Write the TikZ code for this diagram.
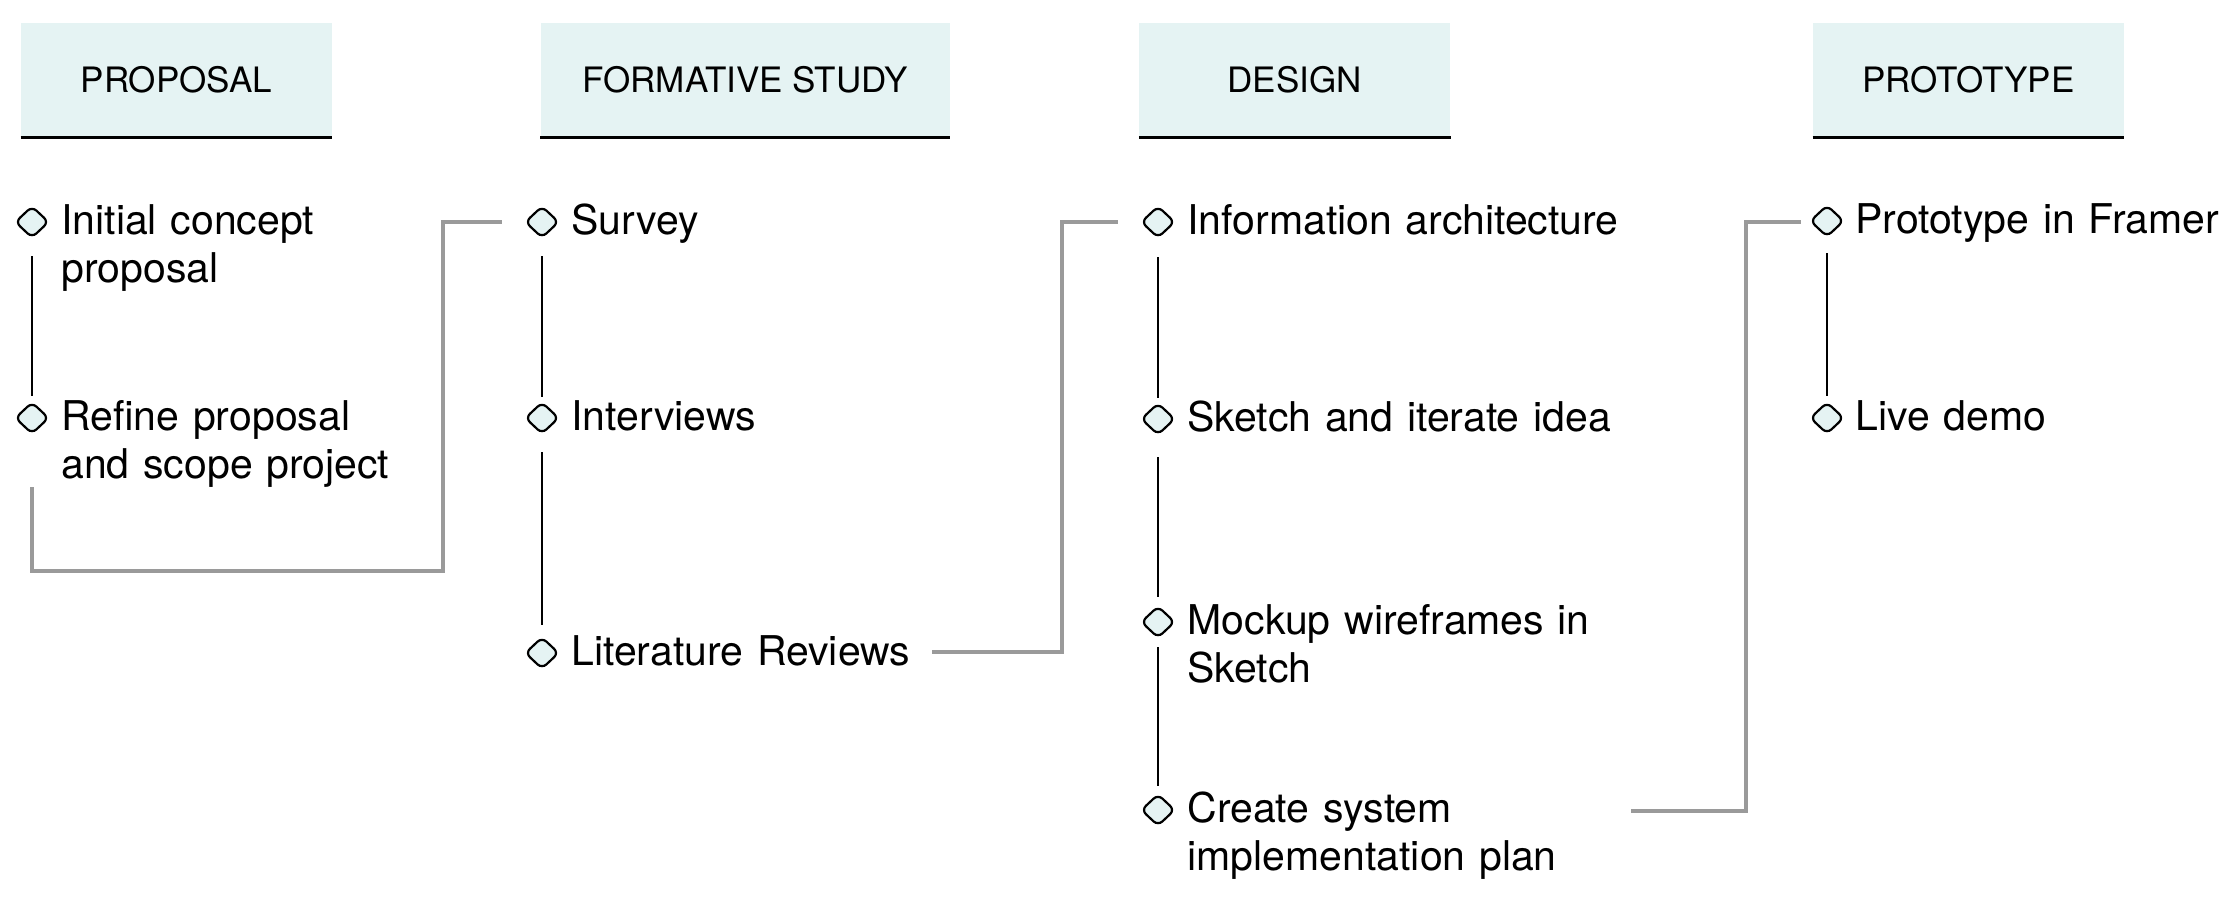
\documentclass[tikz,border=0pt]{standalone}
\usepackage{fontspec}
\setmainfont{TeX Gyre Heros}
\usetikzlibrary{shapes.geometric}
\usetikzlibrary{positioning}

\definecolor{paleteal}{HTML}{E5F3F3}
\definecolor{linkgray}{HTML}{9A9A9A}

\tikzset{
  phase/.style={fill=paleteal, minimum width=155.5pt, minimum height=57pt, inner sep=0pt, font=\fontsize{17.5}{21}\selectfont},
  wide/.style={minimum width=204.5pt},
  bullet/.style={diamond, draw, fill=paleteal, line width=1.1pt, minimum width=17pt, minimum height=16pt, inner sep=0pt, rounded corners=3pt},
  task/.style={anchor=base west, inner sep=0pt, text width=230pt, align=left, font=\fontsize{20.5}{24.25}\selectfont},
  rail/.style={line width=1.3pt},
  link/.style={draw=linkgray, line width=1.6pt}
}

\begin{document}
\begin{tikzpicture}[x=0.5pt, y=-0.5pt]
          \useasboundingbox (0,0) rectangle (2234,896);

          % phases
          \node[phase] (proposal) at (176.5,80) {PROPOSAL};
          \node[phase, wide] (formative) at (745.3,80) {FORMATIVE STUDY};
          \node[phase] (design) at (1294.7,80) {DESIGN};
          \node[phase] (prototype) at (1968.5,80) {PROTOTYPE};
          \draw[line width=1.25pt]
          (proposal.south west) -- (proposal.south east)
          (formative.south west) -- (formative.south east)
          (design.south west) -- (design.south east)
          (prototype.south west) -- (prototype.south east);

          % bullets
          \node[bullet] (d11) at (32,222) {};
          \node[bullet] (d12) at (32,418) {};
          \node[bullet] (d21) at (542,222) {};
          \node[bullet] (d22) at (542,418) {};
          \node[bullet] (d23) at (542,653) {};
          \node[bullet] (d31) at (1158,222) {};
          \node[bullet] (d32) at (1158,419) {};
          \node[bullet] (d33) at (1158,622) {};
          \node[bullet] (d34) at (1158,810) {};
          \node[bullet] (d41) at (1827,221) {};
          \node[bullet] (d42) at (1827,418) {};

          % tasks
          \node[task] (t11) at ([xshift=14.5pt,yshift=-6pt]d11.center) {Initial concept\\proposal};
          \node[task] (t12) at ([xshift=14.5pt,yshift=-6pt]d12.center) {Refine proposal\\and scope project};
          \node[task] (t21) at ([xshift=14.5pt,yshift=-6pt]d21.center) {Survey};
          \node[task] (t22) at ([xshift=14.5pt,yshift=-6pt]d22.center) {Interviews};
          \node[task] (t23) at ([xshift=14.5pt,yshift=-6pt]d23.center) {Literature Reviews};
          \node[task] (t31) at ([xshift=14.5pt,yshift=-6pt]d31.center) {Information architecture};
          \node[task] (t32) at ([xshift=14.5pt,yshift=-6pt]d32.center) {Sketch and iterate idea};
          \node[task] (t33) at ([xshift=14.5pt,yshift=-6pt]d33.center) {Mockup wireframes in\\Sketch};
          \node[task] (t34) at ([xshift=14.5pt,yshift=-6pt]d34.center) {Create system\\implementation plan};
          \node[task] (t41) at ([xshift=14pt,yshift=-6pt]d41.center) {Prototype in Framer};
          \node[task] (t42) at ([xshift=14pt,yshift=-6pt]d42.center) {Live demo};

          % rails
          \draw[rail]
          ([yshift=-17pt]d11.center) -- ([yshift=11pt]d12.center)
          ([yshift=-17pt]d21.center) -- ([yshift=10.5pt]d22.center)
          ([yshift=-17pt]d22.center) -- ([yshift=14pt]d23.center)
          ([yshift=-17.5pt]d31.center) -- ([yshift=10.5pt]d32.center)
          ([yshift=-19pt]d32.center) -- ([yshift=12.5pt]d33.center)
          ([yshift=-12.5pt]d33.center) -- ([yshift=12pt]d34.center)
          ([yshift=-16pt]d41.center) -- ([yshift=11pt]d42.center);

          % links between phases
          \coordinate (out1) at (32,487);
          \coordinate (in2) at (502,222);
          \coordinate (out2) at (932,652);
          \coordinate (in3) at (1118,222);
          \coordinate (out3) at (1631,811);
          \coordinate (in4) at (1801,222);
          \draw[link] (out1) |- ++(411,84) |- (in2);
          \draw[link] (out2) -- ++(130,0) |- (in3);
          \draw[link] (out3) -- ++(115,0) |- (in4);
        \end{tikzpicture}
\end{document}
